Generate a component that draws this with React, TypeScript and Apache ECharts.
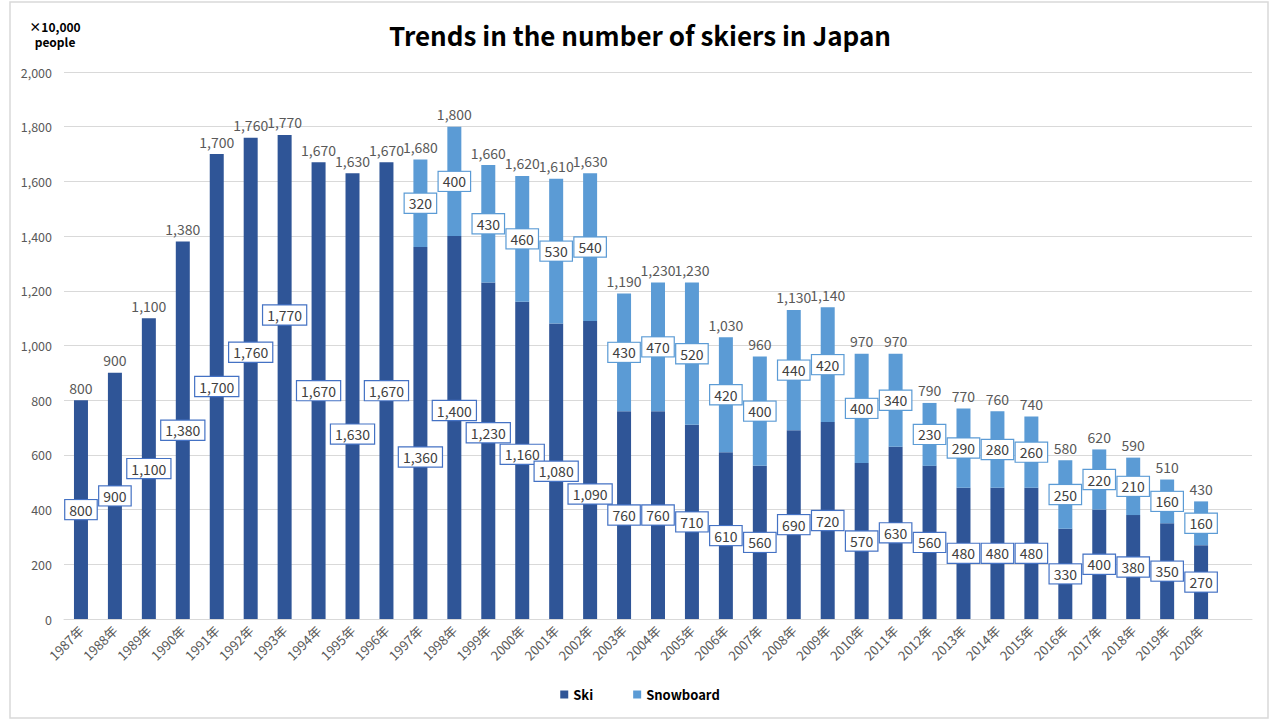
import React, { useEffect, useRef } from "react";
import * as echarts from "echarts";

const years = [
  "1987年", "1988年", "1989年", "1990年", "1991年", "1992年", "1993年", "1994年", "1995年", "1996年",
  "1997年", "1998年", "1999年", "2000年", "2001年", "2002年", "2003年", "2004年", "2005年", "2006年",
  "2007年", "2008年", "2009年", "2010年", "2011年", "2012年", "2013年", "2014年", "2015年", "2016年",
  "2017年", "2018年", "2019年", "2020年",
];
const ski = [
  800, 900, 1100, 1380, 1700, 1760, 1770, 1670, 1630, 1670,
  1360, 1400, 1230, 1160, 1080, 1090, 760, 760, 710, 610,
  560, 690, 720, 570, 630, 560, 480, 480, 480, 330,
  400, 380, 350, 270,
];
const snowboard = [
  0, 0, 0, 0, 0, 0, 0, 0, 0, 0,
  320, 400, 430, 460, 530, 540, 430, 470, 520, 420,
  400, 440, 420, 400, 340, 230, 290, 280, 260, 250,
  220, 210, 160, 160,
];
const yTicks = { min: 0, max: 2000, interval: 200 };

// Label placement nudges (px) mimicking the original's overlap avoidance
const skiLabelNudge: Record<string, number> = {
  "1992年": -26,
  "1993年": -62,
  "1995年": 38,
  "1997年": 24,
  "1998年": -17,
  "1999年": -18,
  "2000年": -6,
  "2002年": 24,
};

const FONT = "'Noto Sans CJK JP', 'Noto Sans', sans-serif";
const fmt = (v: number) => v.toLocaleString("en-US");

export default function App() {
  const ref = useRef<HTMLDivElement>(null);
  useEffect(() => {
    if (!ref.current) return;
    const chart = echarts.init(ref.current, undefined, { renderer: "svg" });
    const cats = [...years, ""];
    const totals = ski.map((v, i) => v + snowboard[i]);
    const snowData = snowboard.map((v) => (v ? v : null));
    const boxLabel = (border: string) => ({
      show: true,
      position: "inside",
      backgroundColor: "#fff",
      borderColor: border,
      borderWidth: 1.2,
      padding: [3, 4, 2, 4],
      color: "#404040",
      fontSize: 14,
      fontFamily: FONT,
    });
    chart.setOption({
      animation: false,
      backgroundColor: "#ffffff",
      textStyle: { fontFamily: FONT },
      title: {
        text: "Trends in the number of skiers in Japan",
        left: "center",
        top: 16,
        textStyle: { fontSize: 26, fontWeight: "bold", color: "#000", fontFamily: FONT },
      },
      graphic: [
        {
          type: "rect",
          shape: { x: 10, y: 2, width: 1258, height: 716 },
          style: { fill: "none", stroke: "#d9d9d9", lineWidth: 1.5 },
          silent: true,
        },
        {
          type: "text",
          x: 55,
          y: 19,
          style: {
            text: "×10,000\npeople",
            align: "center",
            fontSize: 12,
            fontWeight: "bold",
            fontFamily: FONT,
            fill: "#000",
            lineHeight: 15,
          },
        },
      ],
      legend: {
        data: ["Ski", "Snowboard"],
        bottom: 14,
        left: "center",
        itemWidth: 8,
        itemHeight: 8,
        itemGap: 40,
        icon: "rect",
        textStyle: { fontSize: 13, fontWeight: "bold", color: "#000", fontFamily: FONT },
      },
      grid: { left: 64, right: 28, top: 72, bottom: 101, containLabel: false },
      xAxis: {
        type: "category",
        data: cats,
        axisTick: { show: false },
        axisLine: { lineStyle: { color: "#d9d9d9" } },
        axisLabel: { rotate: 45, color: "#595959", fontSize: 13, interval: 0, margin: 9, fontFamily: FONT },
      },
      yAxis: {
        type: "value",
        min: yTicks.min,
        max: yTicks.max,
        interval: yTicks.interval,
        axisLine: { show: false },
        axisTick: { show: false },
        splitLine: { lineStyle: { color: "#d9d9d9" } },
        axisLabel: { color: "#595959", fontSize: 12.5, formatter: (v: number) => fmt(v), margin: 12, fontFamily: FONT },
      },
      series: [
        {
          name: "Ski",
          type: "bar",
          stack: "s",
          barWidth: 14,
          data: ski,
          itemStyle: { color: "#2F5597" },
          label: { ...boxLabel("#4472C4"), formatter: (p: any) => fmt(p.value) },
          labelLayout: (p: any) => ({ dy: skiLabelNudge[years[p.dataIndex]] || 0 }),
        },
        {
          name: "Snowboard",
          type: "bar",
          stack: "s",
          barWidth: 14,
          data: snowData,
          itemStyle: { color: "#5B9BD5" },
          label: { ...boxLabel("#5B9BD5"), formatter: (p: any) => fmt(p.value) },
        },
        {
          name: "Total",
          type: "line",
          data: totals,
          symbol: "circle",
          symbolSize: 1,
          showSymbol: true,
          itemStyle: { color: "rgba(0,0,0,0)" },
          lineStyle: { opacity: 0 },
          silent: true,
          z: 10,
          label: {
            show: true,
            position: "top",
            distance: 5,
            formatter: (p: any) => fmt(p.value),
            color: "#595959",
            fontSize: 14,
            fontFamily: FONT,
          },
        },
      ],
    });
    return () => chart.dispose();
  }, []);
  return (
    <div
      ref={ref}
      style={{ position: "fixed", left: 0, top: 0, width: 1280, height: 720 }}
    />
  );
}
